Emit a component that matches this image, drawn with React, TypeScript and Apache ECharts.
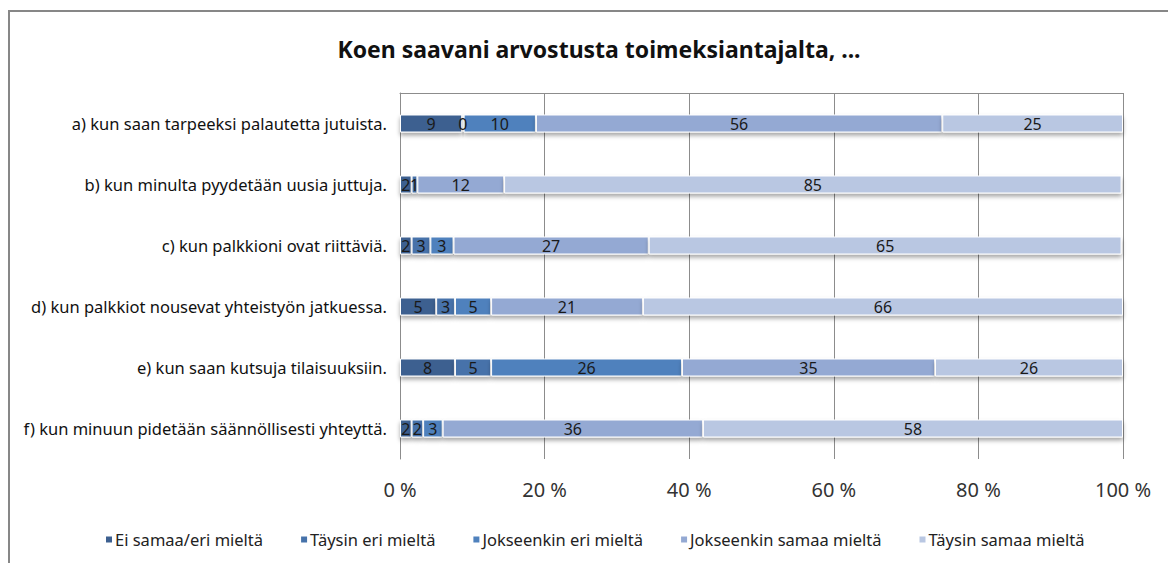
import React, { useEffect, useRef } from "react";
import * as echarts from "echarts";

const categories = [
  "a) kun saan tarpeeksi palautetta jutuista.",
  "b) kun minulta pyydetään uusia juttuja.",
  "c) kun palkkioni ovat riittäviä.",
  "d) kun palkkiot nousevat yhteistyön jatkuessa.",
  "e) kun saan kutsuja tilaisuuksiin.",
  "f) kun minuun pidetään säännöllisesti yhteyttä.",
];

const seriesNames = [
  "Ei samaa/eri mieltä",
  "Täysin eri mieltä",
  "Jokseenkin eri mieltä",
  "Jokseenkin samaa mieltä",
  "Täysin samaa mieltä",
];

const eiSamaaEri = [8.6, 1.6, 1.6, 5, 7.6, 1.6];
const taysinEri = [0.2, 0.8, 2.6, 2.6, 5, 1.6];
const jokseenkinEri = [10, null, 3.2, 5, 26.4, 2.7];
const jokseenkinSamaa = [56.2, 12, 27, 21, 35, 36];
const taysinSamaa = [25, 85.4, 65.4, 66.4, 26, 58.1];

const seriesValues = [eiSamaaEri, taysinEri, jokseenkinEri, jokseenkinSamaa, taysinSamaa];
const colors = ["#3d6090", "#4672aa", "#4f81bd", "#94a9d3", "#b9c7e2"];
const xTicks = [0, 20, 40, 60, 80, 100];

const FONT = "'Noto Sans', 'Open Sans', sans-serif";

export default function App() {
  const ref = useRef<HTMLDivElement>(null);
  useEffect(() => {
    if (!ref.current) return;
    const chart = echarts.init(ref.current, undefined, { renderer: "svg" });
    chart.setOption({
      animation: false,
      backgroundColor: "#ffffff",
      textStyle: { fontFamily: FONT },
      title: {
        text: "Koen saavani arvostusta toimeksiantajalta, ...",
        left: 594,
        textAlign: "center",
        top: 32,
        textStyle: { fontFamily: FONT, fontSize: 23, fontWeight: "bold", color: "#111" },
      },
      graphic: [
        {
          type: "rect",
          shape: { x: 9, y: 11, width: 1300, height: 700 },
          style: { fill: "none", stroke: "#878787", lineWidth: 2 },
          silent: true,
        },
      ],
      legend: {
        top: 526,
        left: 99,
        itemWidth: 8,
        itemHeight: 8,
        itemGap: 36,
        icon: "rect",
        textStyle: { fontFamily: FONT, fontSize: 16.5, color: "#222", padding: [0, 0, 0, -3] },
        data: seriesNames,
      },
      grid: { left: 400, right: 45, top: 93, bottom: 104, containLabel: false },
      xAxis: [
        {
          type: "value",
          min: 0,
          max: 100,
          interval: 20,
          position: "bottom",
          axisLine: { show: false },
          axisTick: { show: false },
          splitLine: { show: true, lineStyle: { color: "#8c8c8c", width: 1 } },
          axisLabel: {
            formatter: (v: number) => (xTicks.includes(v) ? v + " %" : ""),
            fontFamily: FONT,
            fontSize: 20,
            color: "#333",
            margin: 20,
          },
        },
        {
          type: "value",
          min: 0,
          max: 100,
          position: "top",
          axisLine: { show: true, lineStyle: { color: "#8c8c8c", width: 1 } },
          axisTick: { show: false },
          axisLabel: { show: false },
          splitLine: { show: false },
        },
      ],
      yAxis: {
        type: "category",
        inverse: true,
        data: categories,
        axisLine: { show: true, lineStyle: { color: "#8c8c8c", width: 1 } },
        axisTick: { show: false },
        axisLabel: { fontFamily: FONT, fontSize: 16.5, color: "#111", margin: 13 },
      },
      series: seriesNames.map((name, i) => ({
        name,
        type: "bar",
        stack: "total",
        barWidth: 18,
        data: seriesValues[i],
        itemStyle: {
          color: colors[i],
          borderColor: "#ffffff",
          borderWidth: 1,
          shadowColor: "rgba(0,0,0,0.35)",
          shadowBlur: 4,
          shadowOffsetY: 3,
        },
        label: {
          show: true,
          position: "inside",
          formatter: (p: any) => (p.value == null ? "" : String(Math.round(p.value))),
          fontFamily: FONT,
          fontSize: 16,
          color: "#1a1a1a",
        },
      })),
    });
    return () => chart.dispose();
  }, []);
  return (
    <div
      ref={ref}
      style={{ position: "fixed", left: 0, top: 0, width: 1168, height: 563 }}
    />
  );
}
